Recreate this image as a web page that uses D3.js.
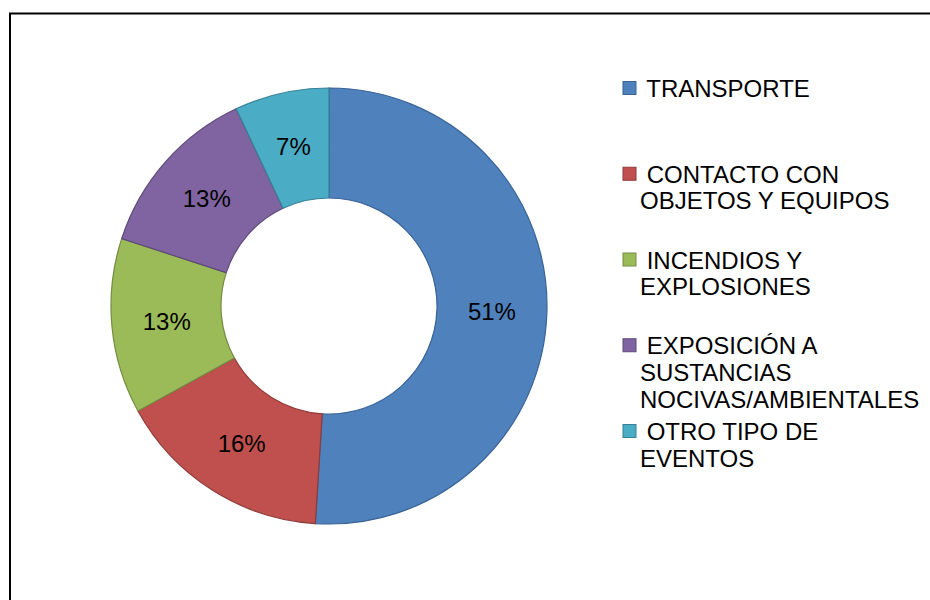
<!DOCTYPE html>
<html>
<head>
<meta charset="utf-8">
<script src="https://cdn.jsdelivr.net/npm/d3@7"></script>
<style>
  html, body { margin: 0; padding: 0; background: #fff; }
  svg { display: block; }
  text { font-family: "Liberation Sans", Arial, sans-serif; fill: #000; }
</style>
</head>
<body>
<svg id="chart" width="930" height="600"></svg>
<script>
// Categories of events and their share (%)
const categories = [
  "TRANSPORTE",
  "CONTACTO CON OBJETOS Y EQUIPOS",
  "INCENDIOS Y EXPLOSIONES",
  "EXPOSICIÓN A SUSTANCIAS NOCIVAS/AMBIENTALES",
  "OTRO TIPO DE EVENTOS"
];
const values = [51, 16, 13, 13, 7];
const valueLabels = ["51%", "16%", "13%", "13%", "7%"];
// Legend text broken into lines as displayed
const legendLines = [
  [" TRANSPORTE"],
  [" CONTACTO CON", "OBJETOS Y EQUIPOS"],
  [" INCENDIOS Y", "EXPLOSIONES"],
  [" EXPOSICIÓN A", "SUSTANCIAS", "NOCIVAS/AMBIENTALES"],
  [" OTRO TIPO DE", "EVENTOS"]
];
const fills = ["#4F81BD", "#C0504D", "#9BBB59", "#8064A2", "#4BACC6"];
const strokes = ["#3A6396", "#8E3B39", "#748C42", "#5F4A79", "#378096"];

const svg = d3.select("#chart");

// Outer frame (right and bottom run off the page)
svg.append("rect")
  .attr("x", 10).attr("y", 13.5)
  .attr("width", 1000).attr("height", 700)
  .attr("fill", "none")
  .attr("stroke", "#000")
  .attr("stroke-width", 2);

const cx = 329, cy = 306, rOuter = 218, rInner = 108;

const pie = d3.pie().sort(null).value(d => d);
const arcs = pie(values);
const arc = d3.arc().innerRadius(rInner).outerRadius(rOuter);
const labelArc = d3.arc().innerRadius((rInner + rOuter) / 2).outerRadius((rInner + rOuter) / 2);

const g = svg.append("g").attr("transform", `translate(${cx},${cy})`);

g.selectAll("path.slice")
  .data(arcs)
  .join("path")
  .attr("class", "slice")
  .attr("d", arc)
  .attr("fill", (d, i) => fills[i])
  .attr("stroke", (d, i) => strokes[i])
  .attr("stroke-width", 1.2);

g.selectAll("text.pct")
  .data(arcs)
  .join("text")
  .attr("class", "pct")
  .attr("transform", d => `translate(${labelArc.centroid(d)})`)
  .attr("text-anchor", "middle")
  .attr("dominant-baseline", "central")
  .style("font-size", "24px")
  .text((d, i) => valueLabels[i]);

// Legend
const legendX = 623, textX = 640, firstY = 88, entryStep = 85.75, lineStep = 26.7;
const legend = svg.append("g");
categories.forEach((c, i) => {
  const y0 = firstY + i * entryStep;
  legend.append("rect")
    .attr("x", legendX).attr("y", y0 - 6.5)
    .attr("width", 13).attr("height", 13)
    .attr("fill", fills[i])
    .attr("stroke", strokes[i])
    .attr("stroke-width", 1);
  const t = legend.append("text")
    .attr("x", textX)
    .attr("y", y0)
    .attr("dominant-baseline", "central")
    .style("font-size", "24px")
    .attr("xml:space", "preserve")
    .style("white-space", "pre");
  legendLines[i].forEach((line, j) => {
    t.append("tspan")
      .attr("x", textX)
      .attr("y", y0 + j * lineStep)
      .text(line);
  });
});
</script>
</body>
</html>
